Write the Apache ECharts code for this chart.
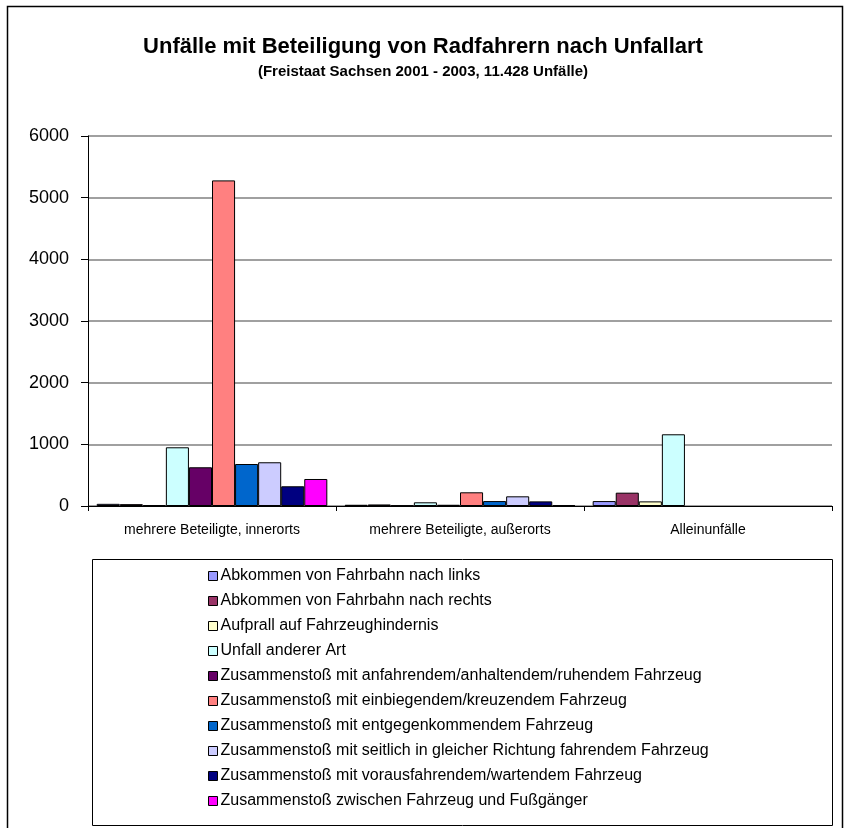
<!DOCTYPE html>
<html>
<head>
<meta charset="utf-8">
<script src="https://cdn.jsdelivr.net/npm/echarts@6/dist/echarts.min.js"></script>
<style>
    html, body { margin: 0; padding: 0; background: #fff; }
    #chart { width: 846px; height: 828px; }
</style>
</head>
<body>
<div id="chart"></div>
<script>
    var categories = ['mehrere Beteiligte, innerorts', 'mehrere Beteiligte, außerorts', 'Alleinunfälle'];
    var seriesNames = [
        'Abkommen von Fahrbahn nach links',
        'Abkommen von Fahrbahn nach rechts',
        'Aufprall auf Fahrzeughindernis',
        'Unfall anderer Art',
        'Zusammenstoß mit anfahrendem/anhaltendem/ruhendem Fahrzeug',
        'Zusammenstoß mit einbiegendem/kreuzendem Fahrzeug',
        'Zusammenstoß mit entgegenkommendem Fahrzeug',
        'Zusammenstoß mit seitlich in gleicher Richtung fahrendem Fahrzeug',
        'Zusammenstoß mit vorausfahrendem/wartendem Fahrzeug',
        'Zusammenstoß zwischen Fahrzeug und Fußgänger'
    ];
    // one row per series: innerorts, außerorts, Alleinunfälle
    var seriesValues = [
        [35, 20, 80],
        [30, 25, 216],
        [15, 10, 75],
        [952, 60, 1163],
        [628, 20, 0],
        [5280, 222, 0],
        [681, 80, 0],
        [709, 157, 0],
        [320, 75, 0],
        [438, 15, 0]
    ];
    var colors = ['#9999FF', '#993366', '#FFFFCC', '#CCFFFF', '#660066',
                  '#FF8080', '#0066CC', '#CCCCFF', '#000080', '#FF00FF'];
    var yTicks = [0, 1000, 2000, 3000, 4000, 5000, 6000];

    var chart = echarts.init(document.getElementById('chart'));
    var font = 'Arial, "Liberation Sans", sans-serif';

    var series = seriesNames.map(function (name, i) {
        return {
            name: name,
            type: 'bar',
            // zero bars: no outline, like the original
            data: seriesValues[i].map(function (v) {
                return v === 0 ? { value: 0, itemStyle: { borderWidth: 0 } } : v;
            }),
            barGap: '0%',
            barCategoryGap: '7%',
            itemStyle: { color: colors[i], borderColor: '#000', borderWidth: 1 }
        };
    });

    var option = {
        animation: false,
        color: colors,
        textStyle: { fontFamily: font },
        title: {
            text: 'Unfälle mit Beteiligung von Radfahrern nach Unfallart',
            subtext: '(Freistaat Sachsen 2001 - 2003, 11.428 Unfälle)',
            left: 'center',
            top: 31,
            itemGap: 6,
            textStyle: { fontFamily: font, fontSize: 22, fontWeight: 'bold', color: '#000' },
            subtextStyle: { fontFamily: font, fontSize: 15, fontWeight: 'bold', color: '#000' }
        },
        grid: { left: 88, right: 14, top: 136, bottom: 322 },
        xAxis: {
            type: 'category',
            data: categories,
            axisLine: { lineStyle: { color: '#000', width: 1 } },
            axisTick: { show: true, length: 5, lineStyle: { color: '#000' } },
            axisLabel: { color: '#000', fontSize: 14, margin: 17 }
        },
        yAxis: {
            type: 'value',
            min: yTicks[0],
            max: yTicks[yTicks.length - 1],
            interval: 1000,
            axisLine: { show: true, lineStyle: { color: '#000', width: 1 } },
            axisTick: { show: true, length: 7, lineStyle: { color: '#000' } },
            axisLabel: { color: '#000', fontSize: 18, margin: 19, formatter: function (v) { return String(v); } },
            splitLine: { lineStyle: { color: '#808080', width: 1.5 } }
        },
        legend: {
            orient: 'vertical',
            left: 203,
            top: 563,
            itemWidth: 9,
            itemHeight: 9,
            itemGap: 9,
            icon: 'rect',
            itemStyle: { borderColor: '#000', borderWidth: 1 },
            textStyle: { fontFamily: font, fontSize: 16, color: '#000', padding: [0, 0, 0, -2] },
            data: seriesNames
        },
        graphic: [
            {
                type: 'rect',
                shape: { x: 7.5, y: 6.5, width: 835, height: 830 },
                style: { fill: 'none', stroke: '#000', lineWidth: 1.5 },
                silent: true
            },
            {
                type: 'rect',
                shape: { x: 92.5, y: 559.5, width: 740, height: 266 },
                style: { fill: 'none', stroke: '#000', lineWidth: 1 },
                silent: true
            }
        ],
        series: series
    };

    chart.setOption(option);
</script>
</body>
</html>
